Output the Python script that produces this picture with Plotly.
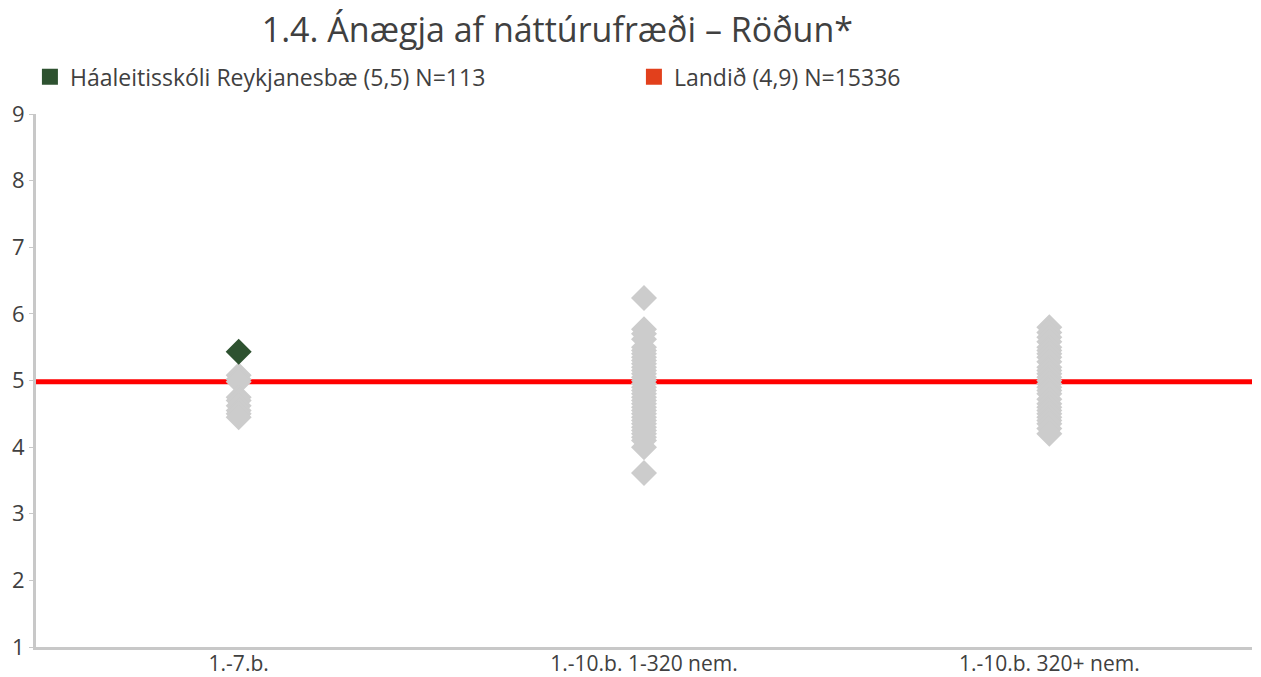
import plotly.graph_objects as go

title = "1.4. Ánægja af náttúrufræði – Röðun*"
categories = ["1.-7.b.", "1.-10.b. 1-320 nem.", "1.-10.b. 320+ nem."]

# other schools (grey diamonds), per category
other_7b = [5.08, 5.02, 4.98, 4.75, 4.70, 4.62, 4.55, 4.50, 4.45]
other_small = [6.24, 5.77, 5.70, 5.62, 5.50, 5.45, 5.40, 5.35, 5.30, 5.25, 5.20, 5.15,
               5.10, 5.05, 5.00, 4.95, 4.90, 4.85, 4.80, 4.75, 4.70, 4.65, 4.60, 4.55,
               4.50, 4.45, 4.40, 4.35, 4.30, 4.25, 4.20, 4.15, 4.10, 4.00, 3.61]
other_large = [5.80, 5.72, 5.65, 5.58, 5.50, 5.45, 5.40, 5.35, 5.28, 5.20, 5.15, 5.10,
               5.05, 5.00, 4.95, 4.90, 4.85, 4.80, 4.72, 4.65, 4.60, 4.55, 4.50, 4.45,
               4.40, 4.35, 4.28, 4.20]

school_name = "Háaleitisskóli Reykjanesbæ (5,5) N=113"
school_category = ["1.-7.b."]
school_value = [5.43]

national_name = "Landið (4,9) N=15336"
national_value = 4.98

yticks = [1, 2, 3, 4, 5, 6, 7, 8, 9]

FONT = "Open Sans"
TXT = "#404040"

fig = go.Figure()

others_x = [categories[0]] * len(other_7b) + [categories[1]] * len(other_small) + [categories[2]] * len(other_large)
others_y = other_7b + other_small + other_large

fig.add_trace(go.Scatter(
    x=others_x, y=others_y, mode="markers",
    marker=dict(symbol="diamond", size=20, color="#cccccc", line=dict(width=0)),
    showlegend=False, hoverinfo="y"))

fig.add_trace(go.Scatter(
    x=school_category, y=school_value, mode="markers",
    marker=dict(symbol="diamond", size=20, color="#2e5230", line=dict(width=0)),
    showlegend=False))

# legend entries
fig.add_trace(go.Scatter(x=[None], y=[None], mode="markers", name=school_name,
                         marker=dict(symbol="square", size=18, color="#2e5230")))
fig.add_trace(go.Scatter(x=[None], y=[None], mode="markers", name=national_name,
                         marker=dict(symbol="square", size=18, color="#e2401c")))

fig.add_shape(type="line", xref="paper", x0=0, x1=1, yref="y", y0=national_value, y1=national_value,
              line=dict(color="#ff0000", width=5), layer="below")

fig.update_layout(
    width=1261, height=677,
    paper_bgcolor="white", plot_bgcolor="white",
    margin=dict(l=36, r=9, t=114, b=30),
    font=dict(family=FONT, color=TXT, size=21),
    title=dict(text=title, x=0.442, xanchor="center", y=0.955, yanchor="middle",
               font=dict(family=FONT, size=34, color=TXT)),
    legend=dict(orientation="h", x=-0.005, xanchor="left", y=1.07, yanchor="middle",
                font=dict(family=FONT, size=23, color=TXT),
                entrywidth=559, entrywidthmode="pixels", itemwidth=30,
                bgcolor="rgba(0,0,0,0)"),
    xaxis=dict(type="category", categoryorder="array", categoryarray=categories,
               showline=True, linecolor="#c8c8c8", linewidth=3, ticks="",
               showgrid=False, zeroline=False, tickfont=dict(size=21, color=TXT),
               range=[-0.5, 2.5], automargin=False, ticklabelstandoff=-4),
    yaxis=dict(range=[1, 9], tickvals=yticks, showline=True, linecolor="#c8c8c8", linewidth=3,
               ticks="outside", ticklen=4, tickcolor="#c8c8c8", showgrid=False, zeroline=False,
               tickfont=dict(size=22, color=TXT), automargin=False),
)

fig.write_html("out.html", config={"displayModeBar": False},
               post_script="document.body.style.margin='0';")
